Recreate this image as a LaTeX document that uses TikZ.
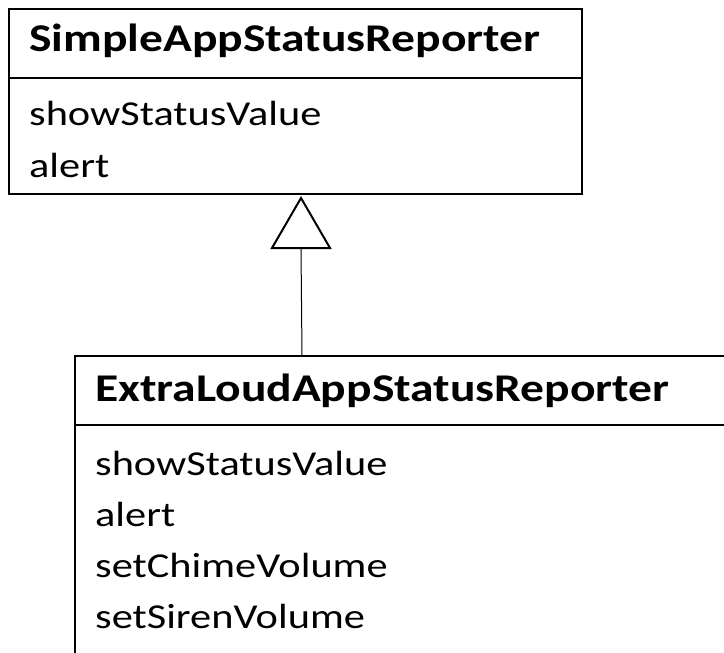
\documentclass[tikz,border=0pt]{standalone}
\usepackage{fontspec}
\setmainfont{Carlito}
\newfontfamily\umlfont[FakeStretch=1.21]{Carlito}
\begin{document}
\begin{tikzpicture}[x=1pt,y=-1pt,
  classbox/.style={draw, line width=2pt, inner sep=0pt, anchor=north west},
  divider/.style={line width=1.3pt},
  member/.style={anchor=base west, inner sep=0pt, font=\umlfont\fontsize{35}{51}\selectfont},
  classname/.style={anchor=base west, inner sep=0pt, font=\umlfont\fontsize{39.3}{51}\selectfont\bfseries},
  hollowhead/.style={line width=2pt, line join=miter},
  link/.style={line width=1pt}]
\useasboundingbox (0,0) rectangle (724,653);
\clip (0,0) rectangle (724,653);

% base class
\node[classbox, minimum width=573pt, minimum height=185pt] (simple) at (8,8) {};
\draw[divider] (8,78) -- (581,78);
\node[classname] (simpleName) at (29,52) {SimpleAppStatusReporter};
\node[member] (simpleM1) at (29,125) {showStatusValue};
\node[member] (simpleM2) at (29,177) {alert};

% derived class (runs past the page edge)
\node[classbox, minimum width=700pt, minimum height=340pt] (loud) at (74,355) {};
\draw[divider] (74,425) -- (780,425);
\node[classname] (loudName) at (95,401) {ExtraLoudAppStatusReporter};
\node[member] (loudM1) at (95,475) {showStatusValue};
\node[member] (loudM2) at (95,526) {alert};
\node[member] (loudM3) at (95,577) {setChimeVolume};
\node[member] (loudM4) at (95,628) {setSirenVolume};

% generalisation arrow
\coordinate (tip) at (301,198);
\coordinate (base) at (301,248);
\coordinate (foot) at (302,355);
\draw[hollowhead] (tip) -- (272,248) -- (330,248) -- cycle;
\draw[link] (base) -- (foot);
\end{tikzpicture}
\end{document}
